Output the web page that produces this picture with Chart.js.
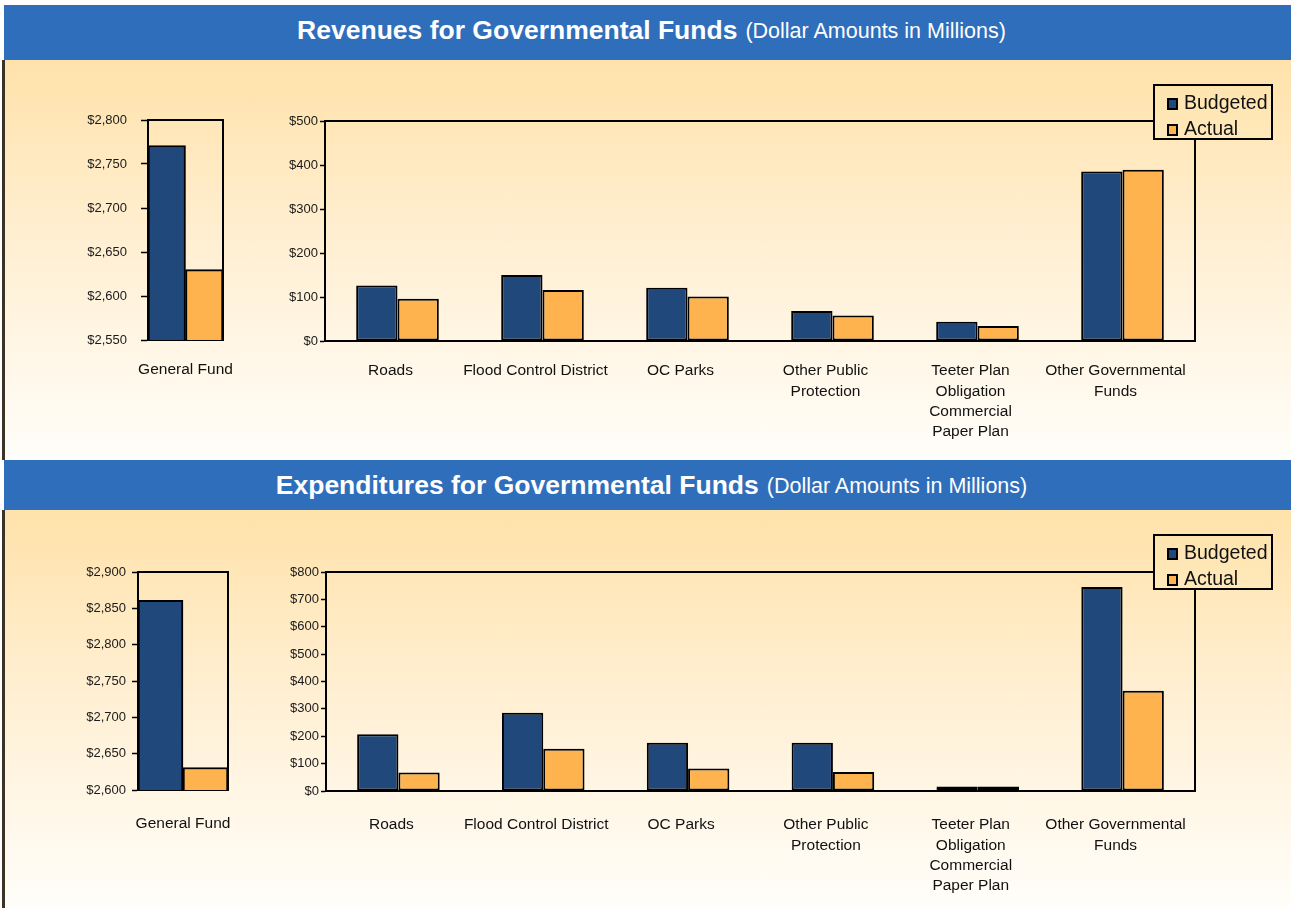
<!DOCTYPE html>
<html>
<head>
<meta charset="utf-8">
<script src="https://cdn.jsdelivr.net/npm/chart.js@4"></script>
<style>
  html, body { margin:0; padding:0; background:#ffffff; }
  body { width:1291px; height:908px; position:relative; overflow:hidden; font-family:'Liberation Sans', Arial, sans-serif; }
  .band { position:absolute; left:4px; width:1287px; background:#2F6EBB; color:#fff; display:flex; align-items:center; justify-content:center; padding-left:8px; box-sizing:border-box; }
  .band b { font-size:26.5px; font-weight:bold; }
  .band span { font-size:21.5px; margin-left:8px; position:relative; top:1px; }
  .panel { position:absolute; left:4px; width:1287px; background:linear-gradient(to bottom, #FFE2AA 0%, #FFEFD2 45%, #FFFEFA 100%); }
  .edge { position:absolute; left:2px; width:3px; background:#3B3326; }
  canvas { position:absolute; }
  .legend { position:absolute; left:1153px; width:116px; height:52px; border:2px solid #000; background:linear-gradient(to bottom, #FFE4AF, #FFE8BA); font-size:19.5px; color:#111; }
  .legend div { position:absolute; left:29px; line-height:22px; }
  .legend i { position:absolute; left:-17px; top:7px; width:7px; height:8px; border:2px solid #000; }
</style>
</head>
<body>
<div class="band" style="top:5px;height:55px;padding-bottom:4px;"><b>Revenues for Governmental Funds</b><span>(Dollar Amounts in Millions)</span></div>
<div class="panel" style="top:60px;height:400px;"></div>
<div class="edge" style="top:60px;height:400px;"></div>
<div class="band" style="top:460px;height:50px;"><b>Expenditures for Governmental Funds</b><span>(Dollar Amounts in Millions)</span></div>
<div class="panel" style="top:510px;height:398px;"></div>
<div class="edge" style="top:510px;height:398px;"></div>

<canvas id="revGF" width="180" height="350" style="left:60px;top:100px;"></canvas>
<canvas id="revMain" width="970" height="350" style="left:245px;top:100px;"></canvas>
<canvas id="expGF" width="190" height="355" style="left:60px;top:550px;"></canvas>
<canvas id="expMain" width="970" height="355" style="left:245px;top:550px;"></canvas>

<div class="legend" style="top:84px;">
  <div style="top:5px;"><i style="background:#21487B"></i>Budgeted</div>
  <div style="top:31px;"><i style="background:#FFB34F"></i>Actual</div>
</div>
<div class="legend" style="top:534px;">
  <div style="top:5px;"><i style="background:#21487B"></i>Budgeted</div>
  <div style="top:31px;"><i style="background:#FFB34F"></i>Actual</div>
</div>

<script>
// ---- data ----
const seriesNames = ["Budgeted", "Actual"];
const gfCategories = ["General Fund"];
const fundCategories = ["Roads", "Flood Control District", "OC Parks", ["Other Public", "Protection"], ["Teeter Plan", "Obligation", "Commercial", "Paper Plan"], ["Other Governmental", "Funds"]];

const revGFBudgeted = [2771];
const revGFActual = [2630];
const revBudgeted = [126, 150, 121, 68, 44, 385];
const revActual = [96, 116, 101, 58, 34, 389];

const expGFBudgeted = [2861];
const expGFActual = [2631];
const expBudgeted = [207, 286, 176, 176, 16, 745];
const expActual = [68, 154, 82, 69, 16, 366];

const revGFTicks = { min: 2550, max: 2800, step: 50 };
const revTicks = { min: 0, max: 500, step: 100 };
const expGFTicks = { min: 2600, max: 2900, step: 50 };
const expTicks = { min: 0, max: 800, step: 100 };

// ---- styling ----
Chart.defaults.font.family = "'Liberation Sans', Arial, sans-serif";
Chart.defaults.color = '#1a1a1a';
const BLUE = '#21487B', ORANGE = '#FFB34F';

const framePlugin = {
  id: 'frame',
  beforeDatasetsDraw(chart) {
    const { ctx, chartArea: a } = chart;
    ctx.save();
    ctx.strokeStyle = '#000';
    ctx.lineWidth = 2;
    ctx.strokeRect(a.left, a.top, a.right - a.left, a.bottom - a.top);
    ctx.restore();
  }
};

function money(v) { return '$' + Number(v).toLocaleString('en-US'); }

function makeChart(id, labels, budget, actual, t, o) {
  new Chart(document.getElementById(id), {
    type: 'bar',
    data: {
      labels: labels,
      datasets: [
        { label: seriesNames[0], data: budget, backgroundColor: BLUE, borderColor: '#000', borderWidth: 2, borderSkipped: false },
        { label: seriesNames[1], data: actual, backgroundColor: ORANGE, borderColor: '#000', borderWidth: 2, borderSkipped: false }
      ]
    },
    options: {
      responsive: false,
      animation: false,
      events: [],
      layout: { padding: { top: o.top, right: o.right, left: 0, bottom: 0 } },
      datasets: { bar: { categoryPercentage: o.cat, barPercentage: 1 } },
      plugins: { legend: { display: false }, tooltip: { enabled: false } },
      scales: {
        x: {
          grid: { display: true, drawOnChartArea: false, drawTicks: false },
          border: { display: true, color: '#000', width: 2 },
          ticks: { font: { size: 15.5, lineHeight: 1.3 }, padding: o.xpad, maxRotation: 0, autoSkip: false, labelOffset: o.lo, color: '#111' },
          afterFit: s => { s.height = o.xh; s.paddingLeft = 0; s.paddingRight = 0; }
        },
        y: {
          min: t.min, max: t.max,
          grid: { display: true, drawOnChartArea: false, drawTicks: true, tickLength: o.tl, tickColor: '#000', tickWidth: 1.5 },
          border: { display: true, color: '#000', width: 2 },
          ticks: { stepSize: t.step, font: { size: 13 }, padding: o.ypad, callback: money, color: '#1a1a1a' },
          afterFit: s => { s.width = o.yw; s.paddingTop = 0; s.paddingBottom = 0; }
        }
      }
    },
    plugins: [framePlugin]
  });
}

makeChart('revGF', gfCategories, revGFBudgeted, revGFActual, revGFTicks,
  { top: 20, right: 17, yw: 88, xh: 110, cat: 1, tl: 7, ypad: 14, xpad: 20, lo: 0 });
makeChart('revMain', fundCategories, revBudgeted, revActual, revTicks,
  { top: 21, right: 20, yw: 80, xh: 109, cat: 0.57, tl: 5, ypad: 2, xpad: 20, lo: -7 });
makeChart('expGF', gfCategories, expGFBudgeted, expGFActual, expGFTicks,
  { top: 22, right: 22, yw: 78, xh: 115, cat: 1, tl: 6, ypad: 6, xpad: 24, lo: 0 });
makeChart('expMain', fundCategories, expBudgeted, expActual, expTicks,
  { top: 22, right: 20, yw: 81, xh: 114, cat: 0.57, tl: 5, ypad: 2, xpad: 24, lo: -7 });
</script>
</body>
</html>
